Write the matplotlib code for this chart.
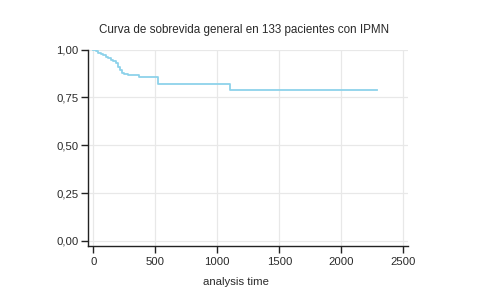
import matplotlib
matplotlib.use("Agg")
import matplotlib.pyplot as plt

# Kaplan-Meier estimate (time in days, survival fraction)
times = [0, 20, 40, 60, 80, 100, 120, 140, 160, 180, 200, 215, 230, 250, 280, 370, 520, 1100, 2290]
surv = [1.0, 0.992, 0.985, 0.977, 0.97, 0.962, 0.955, 0.947, 0.94, 0.932, 0.91,
        0.895, 0.88, 0.872, 0.865, 0.857, 0.818, 0.787, 0.787]

xticks = [0, 500, 1000, 1500, 2000, 2500]
yticks = [0.0, 0.25, 0.5, 0.75, 1.0]
ylabels = ["0,00", "0,25", "0,50", "0,75", "1,00"]

title = "Curva de sobrevida general en 133 pacientes con IPMN"

plt.rcParams["font.family"] = ["Liberation Sans", "DejaVu Sans"]

fig = plt.figure(figsize=(4.82, 2.99), dpi=100)
ax = fig.add_axes([0.182, 0.177, 0.665, 0.657])

ax.step(times, surv, where="post", color="#8dd2ea", lw=1.3, zorder=3)

ax.set_xlim(-45, 2540)
ax.set_ylim(-0.027, 1.0)
ax.set_xticks(xticks)
ax.set_yticks(yticks)
ax.set_yticklabels(ylabels)
ax.grid(True, color="#e8e8e8", lw=0.9, zorder=0)

for s in ["top", "right"]:
    ax.spines[s].set_visible(False)
for s in ["left", "bottom"]:
    ax.spines[s].set_color("#222222")
    ax.spines[s].set_linewidth(1.0)

ax.tick_params(axis="both", direction="out", length=5, width=1.0,
               colors="#222222", labelsize=8.2, labelcolor="#2a2a2a")
ax.tick_params(axis="x", pad=3)
ax.tick_params(axis="y", pad=1.5)

ax.set_xlabel("analysis time", fontsize=8.2, color="#2a2a2a", labelpad=2)
ax.xaxis.set_label_coords(0.462, -0.155)
fig.text(0.506, 0.898, title, fontsize=8.4, color="#2a2a2a", ha="center", va="center")

fig.savefig("out.png", dpi=100)
